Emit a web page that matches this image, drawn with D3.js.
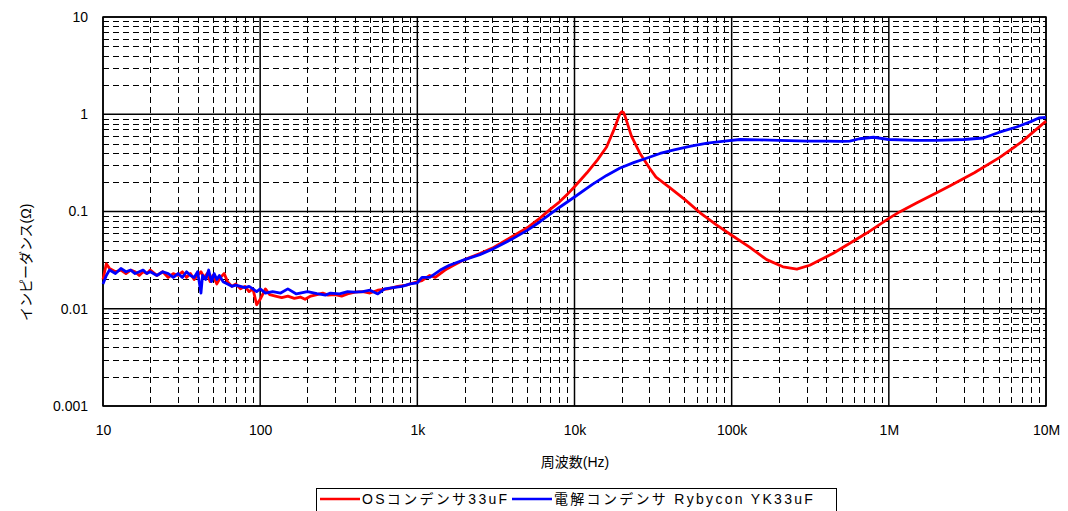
<!DOCTYPE html>
<html>
<head>
<meta charset="utf-8">
<script src="https://cdn.jsdelivr.net/npm/d3@7"></script>
<style>
body { margin: 0; background: #fff; }
svg text { font-family: "Liberation Sans", Arial, "Noto Sans CJK JP", sans-serif; font-size: 13px; fill: #000; }
</style>
</head>
<body>
<svg id="chart" width="1068" height="511"></svg>
<script>
const margin = {top: 17, right: 22, bottom: 105, left: 103},
  width = 1068 - margin.left - margin.right,
  height = 511 - margin.top - margin.bottom;

// データ
const xTicks = [10, 100, 1e3, 1e4, 1e5, 1e6, 1e7];
const xTickLabels = ['10', '100', '1k', '10k', '100k', '1M', '10M'];
const yTicks = [0.001, 0.01, 0.1, 1, 10];
const yTickLabels = ['0.001', '0.01', '0.1', '1', '10'];

const osFreq = [10, 10.5, 11, 12, 13, 14, 15, 16, 17, 18, 19, 20, 22, 24, 26, 28, 30, 32, 34, 36, 38, 40, 42, 44, 46, 48, 50, 53, 56, 59, 62, 66, 70, 75, 80, 85, 90, 95, 100, 108, 115, 125, 137, 150, 165, 180, 193, 210, 230, 250, 270, 300, 330, 360, 400, 450, 500, 560, 650, 750, 850, 950, 1070, 1200, 1300, 1500, 1700, 2000, 2500, 3000, 4000, 5000, 6000, 7000, 8000, 9000, 10000, 12000, 14000, 16000, 18000, 19000, 19500, 20000, 20500, 21000, 23000, 26000, 30000, 33000, 40000, 50000, 63000, 80000, 100000, 130000, 167000, 212000, 260000, 314000, 440000, 724000, 1000000, 1170000, 1500000, 2000000, 2440000, 3500000, 5080000, 7000000, 10000000];
const osZ = [0.020, 0.029, 0.026, 0.024, 0.025, 0.023, 0.025, 0.024, 0.022, 0.024, 0.023, 0.025, 0.022, 0.024, 0.021, 0.023, 0.022, 0.024, 0.021, 0.023, 0.020, 0.022, 0.024, 0.021, 0.023, 0.019, 0.022, 0.018, 0.021, 0.023, 0.019, 0.017, 0.018, 0.016, 0.017, 0.015, 0.016, 0.011, 0.0125, 0.016, 0.014, 0.0135, 0.013, 0.0135, 0.0128, 0.0132, 0.0125, 0.0135, 0.014, 0.0145, 0.0138, 0.014, 0.0135, 0.0142, 0.0148, 0.015, 0.0145, 0.0155, 0.016, 0.017, 0.0175, 0.0185, 0.0195, 0.022, 0.021, 0.025, 0.028, 0.032, 0.037, 0.042, 0.055, 0.068, 0.085, 0.105, 0.125, 0.15, 0.18, 0.25, 0.34, 0.46, 0.72, 0.92, 1.02, 1.06, 1.04, 0.95, 0.6, 0.40, 0.28, 0.226, 0.178, 0.134, 0.097, 0.073, 0.057, 0.043, 0.032, 0.027, 0.0256, 0.028, 0.037, 0.060, 0.085, 0.099, 0.122, 0.155, 0.183, 0.25, 0.36, 0.52, 0.85];

const elFreq = [10, 10.5, 11, 12, 13, 14, 15, 16, 17, 18, 19, 20, 22, 24, 26, 28, 30, 32, 34, 36, 38, 40, 42, 43, 45, 47, 49, 51, 53, 55, 58, 62, 66, 70, 75, 80, 85, 90, 95, 100, 108, 120, 135, 150, 170, 200, 230, 260, 280, 320, 360, 400, 450, 500, 560, 620, 700, 800, 900, 1000, 1070, 1200, 1400, 1600, 2000, 2500, 3000, 4000, 5000, 6000, 8000, 10000, 13000, 16000, 19500, 24000, 29000, 35000, 43000, 55000, 70000, 90000, 113000, 150000, 200000, 300000, 400000, 500000, 565000, 650000, 800000, 1000000, 1500000, 2000000, 3000000, 4000000, 5000000, 6500000, 8000000, 9000000, 10000000];
const elZ = [0.018, 0.022, 0.025, 0.023, 0.026, 0.024, 0.025, 0.023, 0.024, 0.025, 0.023, 0.024, 0.022, 0.024, 0.023, 0.021, 0.023, 0.021, 0.024, 0.022, 0.021, 0.024, 0.0145, 0.022, 0.020, 0.025, 0.019, 0.023, 0.020, 0.022, 0.019, 0.018, 0.017, 0.0175, 0.017, 0.0165, 0.017, 0.016, 0.015, 0.016, 0.0145, 0.015, 0.0145, 0.016, 0.0142, 0.015, 0.0143, 0.0138, 0.0145, 0.0142, 0.015, 0.0148, 0.015, 0.0155, 0.0142, 0.016, 0.0165, 0.017, 0.018, 0.0185, 0.021, 0.021, 0.025, 0.028, 0.032, 0.036, 0.041, 0.052, 0.064, 0.078, 0.11, 0.141, 0.19, 0.235, 0.28, 0.32, 0.355, 0.395, 0.43, 0.47, 0.506, 0.53, 0.55, 0.545, 0.54, 0.53, 0.53, 0.525, 0.53, 0.56, 0.58, 0.55, 0.54, 0.54, 0.55, 0.57, 0.65, 0.74, 0.84, 0.915, 0.93];

const seriesNames = ['OSコンデンサ33uF', '電解コンデンサ Rybycon YK33uF'];
const colors = ['#ff0000', '#0000ff'];

const x = d3.scaleLog().domain([10, 1e7]).range([0, width]);
const y = d3.scaleLog().domain([0.001, 10]).range([height, 0]);

const svg = d3.select('#chart');
const chart = svg.append('g')
  .attr('transform', `translate(${margin.left}, ${margin.top})`);

// 補助目盛（破線）
let minorX = [], minorY = [];
for (let d = 10; d < 1e7; d *= 10) for (let k = 2; k <= 9; k++) minorX.push(d * k);
for (let d = 0.001; d < 9; d *= 10) for (let k = 2; k <= 9; k++) minorY.push(+(d * k).toPrecision(3));

chart.selectAll('.minor-x')
  .data(minorX)
  .enter().append('line')
  .attr('x1', d => Math.round(x(d)) + 0.5)
  .attr('x2', d => Math.round(x(d)) + 0.5)
  .attr('y1', 0).attr('y2', height)
  .attr('stroke', '#000')
  .attr('stroke-dasharray', '6,4');

chart.selectAll('.minor-y')
  .data(minorY)
  .enter().append('line')
  .attr('y1', d => Math.round(y(d)) + 0.5)
  .attr('y2', d => Math.round(y(d)) + 0.5)
  .attr('x1', 0).attr('x2', width)
  .attr('stroke', '#000')
  .attr('stroke-dasharray', '6,4');

// 主目盛（実線）
chart.selectAll('.major-x')
  .data(xTicks)
  .enter().append('line')
  .attr('x1', d => x(d)).attr('x2', d => x(d))
  .attr('y1', 0).attr('y2', height)
  .attr('stroke', '#000')
  .attr('stroke-width', 1.5);

chart.selectAll('.major-y')
  .data(yTicks)
  .enter().append('line')
  .attr('y1', d => y(d)).attr('y2', d => y(d))
  .attr('x1', 0).attr('x2', width)
  .attr('stroke', '#000')
  .attr('stroke-width', 1.5);

chart.append('rect')
  .attr('width', width).attr('height', height)
  .attr('fill', 'none')
  .attr('stroke', '#000')
  .attr('stroke-width', 1.5);

// 軸ラベル
chart.append('g')
  .attr('transform', `translate(0,${height})`)
  .call(d3.axisBottom(x).tickValues(xTicks).tickSize(0).tickPadding(19)
    .tickFormat((d, i) => xTickLabels[i]))
  .call(g => g.select('.domain').remove())
  .selectAll('text').style('font-size', '14px').attr('font-family', null);

chart.append('g')
  .call(d3.axisLeft(y).tickValues(yTicks).tickSize(0).tickPadding(15)
    .tickFormat((d, i) => yTickLabels[i]))
  .call(g => g.select('.domain').remove())
  .selectAll('text').style('font-size', '14px').attr('font-family', null);

// 曲線
const line = d3.line()
  .x(d => x(d[0]))
  .y(d => y(d[1]));

const series = [d3.zip(osFreq, osZ), d3.zip(elFreq, elZ)];

chart.selectAll('.curve')
  .data(series)
  .enter().append('path')
  .attr('class', 'curve')
  .attr('d', line)
  .attr('fill', 'none')
  .attr('stroke', (d, i) => colors[i])
  .attr('stroke-width', 2.8)
  .attr('stroke-linejoin', 'round');

// 軸タイトル
svg.append('text')
  .attr('x', 575).attr('y', 467)
  .attr('text-anchor', 'middle')
  .style('font-size', '14px')
  .text('周波数(Hz)');

svg.append('text')
  .attr('transform', `translate(31, ${margin.top + y(0.03)}) rotate(-90)`)
  .attr('text-anchor', 'middle')
  .style('font-size', '14px')
  .text('インピーダンス(Ω)');

// 凡例
const legend = svg.append('g').attr('transform', 'translate(316, 488)');
legend.append('rect')
  .attr('x', 0.5).attr('y', 0.5)
  .attr('width', 520).attr('height', 30)
  .attr('fill', '#fff')
  .attr('stroke', '#000');

const legendX = [4, 196];
seriesNames.forEach((name, i) => {
  legend.append('line')
    .attr('x1', legendX[i]).attr('x2', legendX[i] + 40)
    .attr('y1', 11).attr('y2', 11)
    .attr('stroke', colors[i])
    .attr('stroke-width', 2.5);
  legend.append('text')
    .attr('x', legendX[i] + 42).attr('y', 16)
    .style('font-size', '14px')
    .style('letter-spacing', '2.3px')
    .text(name);
});
</script>
</body>
</html>
